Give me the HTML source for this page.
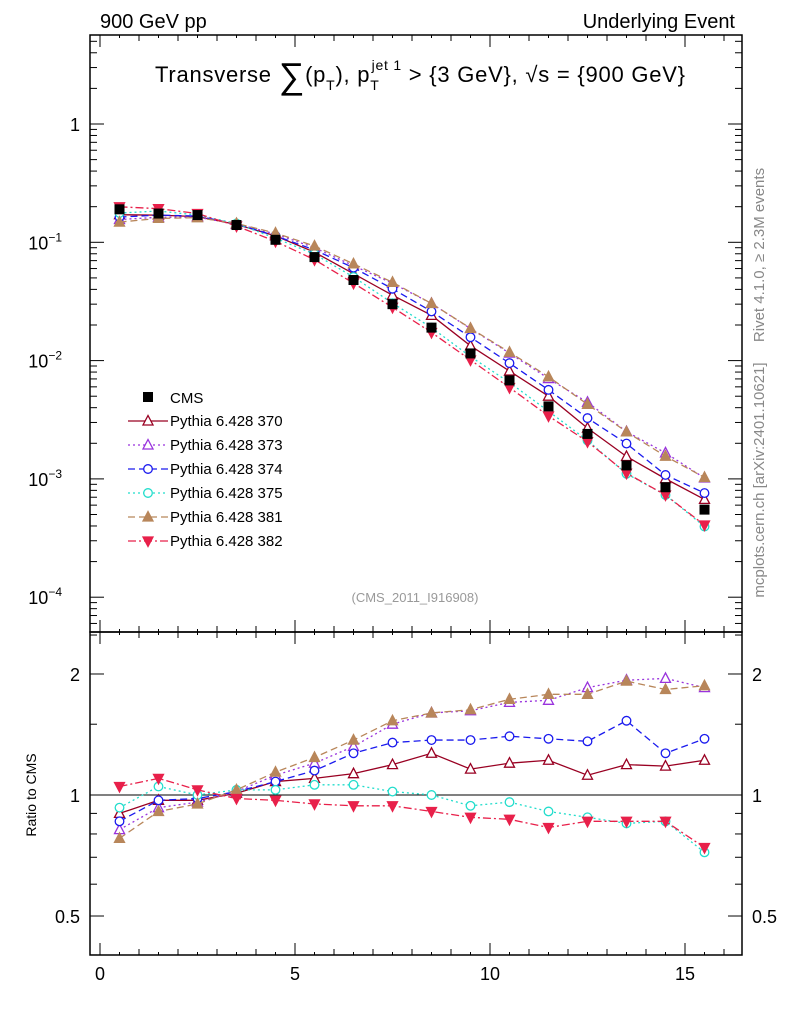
<!DOCTYPE html>
<html><head><meta charset="utf-8"><style>
body{margin:0;background:#fff;font-family:"Liberation Sans",sans-serif}
svg text{font-family:"Liberation Sans","DejaVu Sans",sans-serif}
</style></head><body>
<svg id="c" width="786" height="1024" xmlns="http://www.w3.org/2000/svg">
<text x="100" y="28" font-size="20">900 GeV pp</text>
<text x="735" y="28" font-size="20" text-anchor="end">Underlying Event</text>
<text x="420" y="82" font-size="22" text-anchor="middle" textLength="530">Transverse <tspan font-size="36" dy="6">∑</tspan><tspan dy="-6">(p</tspan><tspan font-size="14" dy="8">T</tspan><tspan dy="-8">), p</tspan><tspan font-size="14" dy="8">T</tspan><tspan font-size="14" dx="-8" dy="-20">jet 1</tspan><tspan dy="12"> &gt; {3 GeV}, √s = {900 GeV}</tspan></text>
<text x="415" y="602" font-size="13" fill="#999" text-anchor="middle">(CMS_2011_I916908)</text>
<text transform="translate(764,255) rotate(-90)" font-size="15" fill="#888" text-anchor="middle">Rivet 4.1.0, ≥ 2.3M events</text>
<text transform="translate(764,480) rotate(-90)" font-size="15" fill="#888" text-anchor="middle">mcplots.cern.ch [arXiv:2401.10621]</text>
<text transform="translate(36,795) rotate(-90)" font-size="14" text-anchor="middle">Ratio to CMS</text>
<g id="g"></g>
</svg>
<script>
const xs=[0.5,1.5,2.5,3.5,4.5,5.5,6.5,7.5,8.5,9.5,10.5,11.5,12.5,13.5,14.5,15.5];
const cms=[0.19,0.175,0.17,0.14,0.105,0.075,0.048,0.03,0.019,0.0115,0.0068,0.0041,0.0024,0.0013,0.00085,0.00055];
const r370=[0.9,0.97,0.97,1.01,1.08,1.1,1.13,1.19,1.27,1.16,1.2,1.22,1.12,1.19,1.18,1.22];
const r373=[0.82,0.93,0.96,1.02,1.12,1.2,1.32,1.5,1.6,1.62,1.7,1.72,1.85,1.93,1.95,1.85];
const r374=[0.86,0.97,0.98,1.02,1.08,1.15,1.27,1.35,1.37,1.37,1.4,1.38,1.36,1.53,1.27,1.38];
const r375=[0.93,1.05,1.0,1.03,1.03,1.06,1.06,1.02,1.0,0.94,0.96,0.91,0.88,0.85,0.86,0.72];
const r381=[0.78,0.91,0.95,1.03,1.14,1.24,1.37,1.53,1.6,1.63,1.73,1.78,1.78,1.92,1.83,1.87];
const r382=[1.05,1.1,1.03,0.98,0.97,0.95,0.94,0.94,0.91,0.88,0.87,0.83,0.86,0.86,0.86,0.74];
const names=["Pythia 6.428 370","Pythia 6.428 373","Pythia 6.428 374","Pythia 6.428 375","Pythia 6.428 381","Pythia 6.428 382"];
const xTicks=[0,5,10,15];

const L=90,R=742,T=35,M=632,B=955;
const X=v=>100+39*v;
const Y=v=>124-118.3*Math.log10(v);
const YR=v=>795-402*Math.log10(v);
const NS="http://www.w3.org/2000/svg";
const g=document.getElementById('g');
function el(t,a,p){const e=document.createElementNS(NS,t);for(const k in a)e.setAttribute(k,a[k]);(p||g).appendChild(e);return e;}

let e;
e=el('rect',{x:L,y:T,width:R-L,height:M-T,fill:'none',stroke:'#000','stroke-width':1.5});

e=el('rect',{x:L,y:M,width:R-L,height:B-M,fill:'none',stroke:'#000','stroke-width':1.5});

e=el('line',{x1:L,x2:R,y1:YR(1),y2:YR(1),stroke:'#000','stroke-width':1});


for(let v=0;v<=16.5;v+=0.5){
  const big=Number.isInteger(v/5)?12:(Number.isInteger(v)?6:3);
  const x=X(v); if(x>R)break;
  for(const[y0,d] of [[M,-1],[T,1],[B,-1],[M,1]]){el('line',{x1:x,x2:x,y1:y0,y2:y0+d*big,stroke:'#000'});}
}
xTicks.forEach(v=>{e=el('text',{x:X(v),y:980,'font-size':18,'text-anchor':'middle'});e.textContent=v;
});

for(let d=-5;d<=0;d++){for(let m=1;m<10;m++){const v=m*Math.pow(10,d);const y=Y(v);if(y<T||y>M)continue;
 const len=m==1?14:7;el('line',{x1:L,x2:L+len,y1:y,y2:y,stroke:'#000'});el('line',{x1:R,x2:R-len,y1:y,y2:y,stroke:'#000'});}}
[[1,"1"],[0.1,"10<tspan dy='-8' font-size='12'>−1</tspan>"],[0.01,"10<tspan dy='-8' font-size='12'>−2</tspan>"],[0.001,"10<tspan dy='-8' font-size='12'>−3</tspan>"],[0.0001,"10<tspan dy='-8' font-size='12'>−4</tspan>"]].forEach(([v,t])=>{
 e=el('text',{x:v==1?80:82,y:Y(v)+7,'font-size':18,'text-anchor':'end'});e.innerHTML=t;if(v!=1)e.setAttribute('x',62);
 });
[0.4,0.5,0.6,0.7,0.8,0.9,1,1.5,2,2.5].forEach(v=>{const y=YR(v);if(y<M||y>B)return;const len=(v==0.5||v==1||v==2)?14:7;
 el('line',{x1:L,x2:L+len,y1:y,y2:y,stroke:'#000'});el('line',{x1:R,x2:R-len,y1:y,y2:y,stroke:'#000'});});
[[0.5,"0.5"],[1,"1"],[2,"2"]].forEach(([v,t])=>{
 e=el('text',{x:80,y:YR(v)+7,'font-size':18,'text-anchor':'end'});e.textContent=t;
 
 e=el('text',{x:752,y:YR(v)+7,'font-size':18});e.textContent=t;
 });

const styles=[
 {c:'#990022',d:'',m:'tri',f:false},
 {c:'#9933dd',d:'2,3',m:'tri',f:false},
 {c:'#1a1aee',d:'7,4',m:'circ',f:false},
 {c:'#22ddcc',d:'2,3',m:'circ',f:false},
 {c:'#b8865a',d:'7,4',m:'tri',f:true},
 {c:'#e8204a',d:'8,3,2,3',m:'tdown',f:true}];
const ratios=[r370,r373,r374,r375,r381,r382];
function marker(p,s,x,y){
 const a={stroke:s.c,'stroke-width':1.3,fill:s.f?s.c:'#fff'};
 if(s.m=='circ')return el('circle',Object.assign({cx:x,cy:y,r:4.3},a),p);
 if(s.m=='tri')return el('polygon',Object.assign({points:`${x},${y-5.5} ${x-5},${y+4} ${x+5},${y+4}`},a),p);
 return el('polygon',Object.assign({points:`${x},${y+5.5} ${x-5},${y-4} ${x+5},${y-4}`},a),p);
}
ratios.forEach((r,i)=>{
 const s=styles[i];
 const grp=el('g',{});
 
 
 const pts=[],rpts=[];
 xs.forEach((x,j)=>{const v=cms[j]*r[j];pts.push([X(x),Y(v)]);rpts.push([X(x),YR(r[j])]);});
 const sd=p=>'M'+p.map(q=>q.join(',')).join('L');
 el('path',{d:sd(pts),fill:'none',stroke:s.c,'stroke-width':1.3,'stroke-dasharray':s.d},grp);
 el('path',{d:sd(rpts),fill:'none',stroke:s.c,'stroke-width':1.3,'stroke-dasharray':s.d},grp);
 pts.forEach(p=>{e=marker(grp,s,p[0],p[1]);});
 rpts.forEach(p=>{e=marker(grp,s,p[0],p[1]);});
});
const cg=el('g',{});


xs.forEach((x,j)=>{e=el('rect',{x:X(x)-5,y:Y(cms[j])-5,width:10,height:10,fill:'#000'},cg);
 });

const lg=el('g',{});


e=el('rect',{x:143,y:392,width:10,height:10,fill:'#000'},lg);
e=el('text',{x:170,y:403,'font-size':15},lg);e.textContent='CMS';

names.forEach((n,i)=>{const y=421+i*24;const s=styles[i];
 el('line',{x1:128,x2:168,y1:y,y2:y,stroke:s.c,'stroke-width':1.3,'stroke-dasharray':s.d},lg);
 marker(lg,s,148,y);
 e=el('text',{x:170,y:y+5,'font-size':15},lg);e.textContent=n;
 });
</script>
</body></html>
